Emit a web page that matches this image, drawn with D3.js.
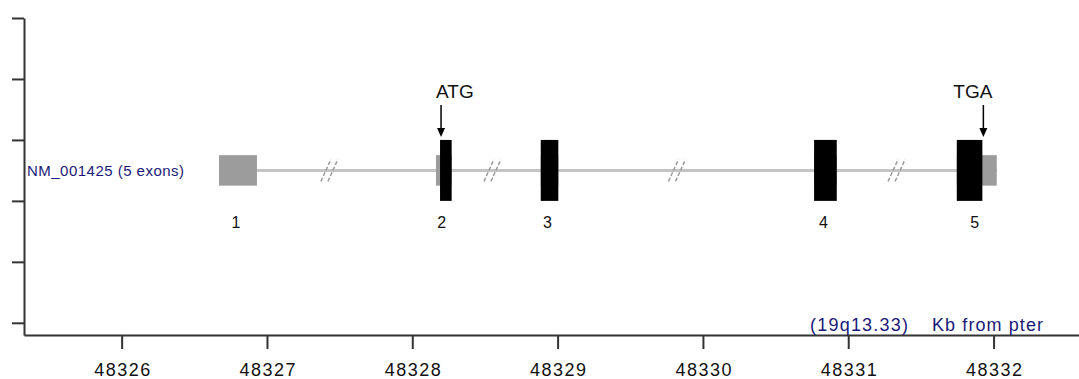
<!DOCTYPE html>
<html>
<head>
<meta charset="utf-8">
<script src="https://cdn.jsdelivr.net/npm/d3@7"></script>
<style>
  html, body { margin: 0; padding: 0; background: #fff; }
  svg { display: block; font-family: "Liberation Sans", Arial, sans-serif; }
</style>
</head>
<body>
<div id="chart"></div>
<script>
// positions in Kb from pter (display coordinates, introns compressed)
const transcriptName = "NM_001425 (5 exons)";
const exonNumbers = [1, 2, 3, 4, 5];
const exonStarts = [48326.670, 48328.163, 48328.884, 48330.765, 48331.747];
const exonEnds   = [48326.931, 48328.271, 48329.005, 48330.921, 48332.022];
const cdsStart = 48328.191;   // ATG
const cdsEnd   = 48331.923;   // TGA
const breakMarks = [48327.433, 48328.555, 48329.825, 48331.336];
const xTicks = [48326, 48327, 48328, 48329, 48330, 48331, 48332];
const yTicks = [0, 1, 2, 3, 4, 5];
const bandLabel = "(19q13.33)";
const unitLabel = "Kb from pter";

const width = 1079, height = 379;
const svg = d3.select("#chart").append("svg")
  .attr("width", width)
  .attr("height", height);

const x = d3.scaleLinear().domain([48325.328, 48332.588]).range([24, 1079]);
const y = d3.scaleLinear().domain([-0.2, 5]).range([335, 18]);
const trackY = 2.5;

// axes
const xAxis = svg.append("g")
  .attr("transform", `translate(0,${y(-0.2)})`)
  .call(d3.axisBottom(x).tickValues(xTicks).tickFormat(d3.format("d")).tickSize(14).tickSizeOuter(0));
xAxis.select(".domain").attr("stroke", "#333").attr("stroke-width", 2);
xAxis.selectAll(".tick line").attr("stroke", "#333").attr("stroke-width", 2);
xAxis.selectAll(".tick text")
  .attr("y", 41).attr("dy", 0)
  .attr("fill", "#111")
  .style("font-size", "18px")
  .attr("textLength", 56)
  .attr("lengthAdjust", "spacing");

const yAxis = svg.append("g")
  .attr("transform", `translate(${x.range()[0]},0)`)
  .call(d3.axisLeft(y).tickValues(yTicks).tickFormat("").tickSize(12).tickSizeOuter(0));
yAxis.select(".domain").attr("stroke", "#333").attr("stroke-width", 2);
yAxis.selectAll(".tick line").attr("stroke", "#333").attr("stroke-width", 2);

// transcript label
svg.append("text")
  .attr("x", 27).attr("y", y(trackY) + 6)
  .attr("fill", "#1a1a78")
  .style("font-size", "15px")
  .attr("textLength", 157)
  .attr("lengthAdjust", "spacing")
  .text(transcriptName);

// intron line
svg.append("line")
  .attr("x1", x(d3.min(exonStarts))).attr("x2", x(d3.max(exonEnds)))
  .attr("y1", y(trackY)).attr("y2", y(trackY))
  .attr("stroke", "#c4c4c4").attr("stroke-width", 3);

// break marks
const bm = svg.append("g").selectAll("g").data(breakMarks).join("g")
  .attr("transform", d => `translate(${x(d)},${y(trackY)})`);
[-4, 3].forEach(off => {
  bm.append("line")
    .attr("x1", off - 5).attr("y1", 11)
    .attr("x2", off + 5).attr("y2", -11)
    .attr("stroke", "#9a9a9a").attr("stroke-width", 1.5)
    .attr("stroke-dasharray", "4,2");
});

// exons: UTR (gray, thin) and CDS (black, tall)
const exons = exonNumbers.map((n, i) => ({ n, start: exonStarts[i], end: exonEnds[i] }));
const g = svg.append("g");
g.selectAll("rect.utr").data(exons).join("rect")
  .attr("class", "utr")
  .attr("x", d => x(d.start)).attr("width", d => x(d.end) - x(d.start))
  .attr("y", y(trackY + 0.25)).attr("height", y(trackY - 0.25) - y(trackY + 0.25))
  .attr("fill", "#9c9c9c");
g.selectAll("rect.cds").data(exons.filter(d => d.end > cdsStart && d.start < cdsEnd)).join("rect")
  .attr("class", "cds")
  .attr("x", d => x(Math.max(d.start, cdsStart)))
  .attr("width", d => x(Math.min(d.end, cdsEnd)) - x(Math.max(d.start, cdsStart)))
  .attr("y", y(trackY + 0.5)).attr("height", y(trackY - 0.5) - y(trackY + 0.5))
  .attr("fill", "#000");

// exon numbers
g.selectAll("text.num").data(exons).join("text")
  .attr("class", "num")
  .attr("x", d => (x(d.start) + x(d.end)) / 2 - 2)
  .attr("y", 228)
  .attr("text-anchor", "middle")
  .attr("fill", "#111")
  .style("font-size", "16px")
  .text(d => d.n);

// start / stop codon markers
const codons = [
  { label: "ATG", pos: cdsStart, anchor: "start", dx: -4 },
  { label: "TGA", pos: cdsEnd, anchor: "end", dx: 10 }
];
const cg = svg.append("g").selectAll("g").data(codons).join("g")
  .attr("transform", d => `translate(${x(d.pos)},0)`);
cg.append("line")
  .attr("x1", 1).attr("x2", 1)
  .attr("y1", 105).attr("y2", 130)
  .attr("stroke", "#000").attr("stroke-width", 1.5);
cg.append("path")
  .attr("d", "M-3,128 L5,128 L1,137 Z")
  .attr("fill", "#000");
cg.append("text")
  .attr("x", d => d.dx).attr("y", 98)
  .attr("text-anchor", d => d.anchor)
  .attr("fill", "#111")
  .style("font-size", "19px")
  .text(d => d.label);

// location caption
svg.append("text")
  .attr("x", 810).attr("y", 331)
  .attr("fill", "#1a1a78")
  .style("font-size", "18px")
  .attr("textLength", 98)
  .attr("lengthAdjust", "spacing")
  .text(bandLabel);
svg.append("text")
  .attr("x", 932).attr("y", 331)
  .attr("fill", "#1a1a78")
  .style("font-size", "18px")
  .attr("textLength", 111)
  .attr("lengthAdjust", "spacing")
  .text(unitLabel);
</script>
</body>
</html>
